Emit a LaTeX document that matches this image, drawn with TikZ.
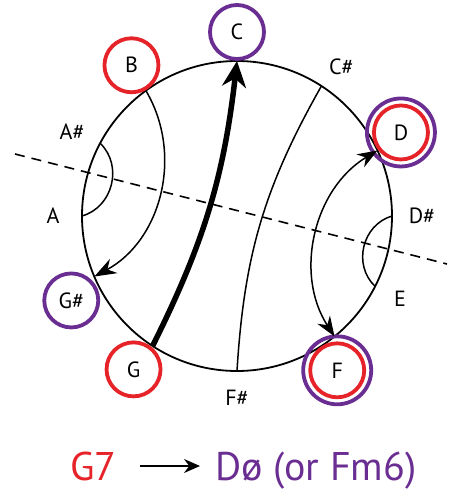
\documentclass[tikz,border=0pt]{standalone}
\usepackage{fontspec}
\setmainfont{PT Sans}
\definecolor{myred}{HTML}{E52329}
\definecolor{mypurple}{HTML}{6A2E92}
\usetikzlibrary{arrows.meta, positioning}
\tikzset{
	notelabel/.style={
			font=\fontsize{22}{26}\selectfont,
			inner sep=0pt
		},
	rednode/.style={
			notelabel,
			circle,
			draw=myred,
			line width=3.8pt,
			minimum size=54pt
		},
	purplenode/.style={
			rednode,
			draw=mypurple
		},
	ringnode/.style={
			circle,
			draw=mypurple,
			line width=3.8pt,
			minimum size=68pt,
			inner sep=0pt
		},
	voiceline/.style={
			line width=1.5pt
		},
	titlenode/.style={
			font=\fontsize{40}{48}\selectfont,
			inner sep=0pt
		}
}

\begin{document}
\begin{tikzpicture}[x=1pt, y=1pt]
\useasboundingbox (-237,-274) rectangle (218,216);

% the wheel
\draw[line width=1.8pt] (0,0) circle (155);
\coordinate (pC)  at (90:155);
\coordinate (pCs) at (57:155);
\coordinate (pD)  at (25:155);
\coordinate (pDs) at (0:155);
\coordinate (pE)  at (-27:155);
\coordinate (pF)  at (-51:155);
\coordinate (pFs) at (-90:155);
\coordinate (pG)  at (-123:155);
\coordinate (pGs) at (-157:155);
\coordinate (pA)  at (180:155);
\coordinate (pAs) at (152:155);
\coordinate (pB)  at (126:155);

% axis
\coordinate (axl) at (-222,62);
\coordinate (axr) at (210,-48);
\draw[line width=1.6pt, dash pattern=on 10pt off 7pt] (axl) -- (axr);

% notes
\node[purplenode] (nC)  at (90:184)   { C };
\node[notelabel]  (nCs) at (55:182)   { C\# };
\node[ringnode]   (rD)  at (27:184)   {};
\node[rednode]    (nD)  at (27:184)   { D };
\node[notelabel]  (nDs) at (0:185)    { D\# };
\node[notelabel]  (nE)  at (-27:183)  { E };
\node[ringnode]   (rF)  at (-57:184)  {};
\node[rednode]    (nF)  at (-57:184)  { F };
\node[notelabel]  (nFs) at (-90:182)  { F\# };
\node[rednode]    (nG)  at (-124:185) { G };
\node[purplenode] (nGs) at (-153:186) { G\# };
\node[notelabel]  (nA)  at (180:184)  { A };
\node[notelabel]  (nAs) at (153:185)  { A\# };
\node[rednode]    (nB)  at (125:184)  { B };

% voice leading
\draw[voiceline] (pAs) to[bend left=60, looseness=1.1] (pA);
\draw[voiceline, -{Stealth[length=22pt, width=16pt]}] (pB) to[bend left=46] (pGs);
\draw[line width=5.5pt, -{Stealth[length=26pt, width=24pt]}] (pG) to[bend right=10] (pC);
\draw[voiceline] (pCs) to[bend right=13] (pFs);
\draw[voiceline, {Stealth[length=20pt, width=15pt]}-{Stealth[length=20pt, width=15pt]}] (pD) to[bend right=46] (pF);
\draw[voiceline] (pDs) to[bend right=60, looseness=1.1] (pE);

% caption
\node[titlenode, text=myred, anchor=base east] (tG) at (-120,-264) {G7};
\node[titlenode, text=mypurple, anchor=base west] (tD) at (-22,-264) {Dø (or Fm6)};
\draw[line width=1.8pt, -{Stealth[length=16pt, width=14pt]}, shorten <=23pt, shorten >=15pt] (tG.east) -- (tG.east -| tD.west);

\end{tikzpicture}
\end{document}
